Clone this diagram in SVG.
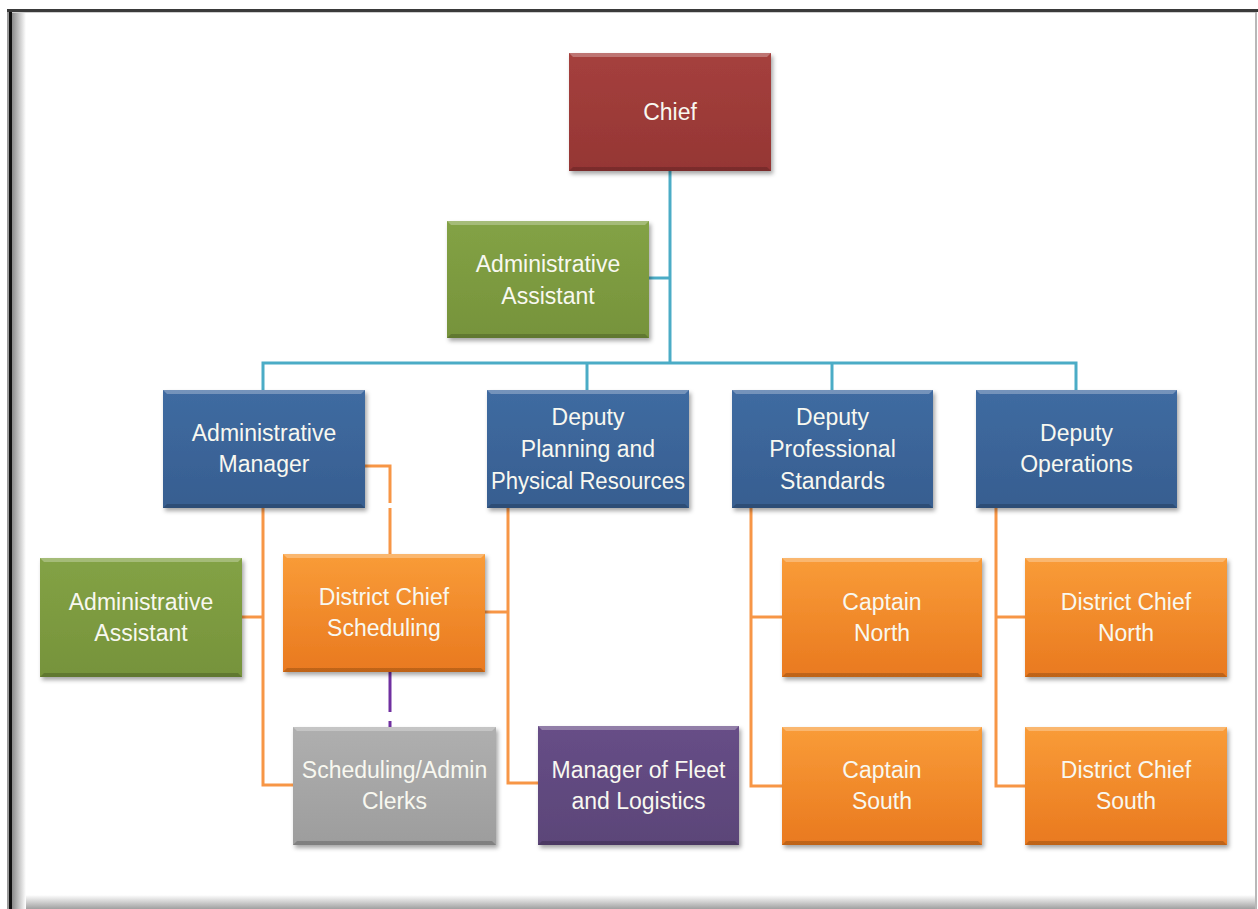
<svg xmlns="http://www.w3.org/2000/svg" width="1258" height="909" viewBox="0 0 1258 909">
<defs>
<style>
.t{font-family:"Liberation Sans",Arial,sans-serif;font-size:23px;fill:#F8F8F0;text-anchor:middle}
.box{filter:url(#sh)}
.tl{fill:none;stroke:#4BACC6;stroke-width:3}
.ol{fill:none;stroke:#F79646;stroke-width:3}
.pl{fill:none;stroke:#7030A0;stroke-width:3}
.hi{fill:#ffffff;opacity:0.28}
.lo{fill:#000000;opacity:0.18}
</style>
<filter id="sh" x="-10%" y="-10%" width="125%" height="130%">
<feDropShadow dx="2" dy="3" stdDeviation="2" flood-color="#000" flood-opacity="0.35"/>
</filter>
<linearGradient id="gRed" x1="0" y1="0" x2="0" y2="1"><stop offset="0" stop-color="#A5403D"/><stop offset="1" stop-color="#953634"/></linearGradient>
<linearGradient id="gGreen" x1="0" y1="0" x2="0" y2="1"><stop offset="0" stop-color="#83A245"/><stop offset="1" stop-color="#76933B"/></linearGradient>
<linearGradient id="gBlue" x1="0" y1="0" x2="0" y2="1"><stop offset="0" stop-color="#3F6BA1"/><stop offset="1" stop-color="#375E90"/></linearGradient>
<linearGradient id="gOrange" x1="0" y1="0" x2="0" y2="1"><stop offset="0" stop-color="#F99C38"/><stop offset="1" stop-color="#E9791F"/></linearGradient>
<linearGradient id="gGray" x1="0" y1="0" x2="0" y2="1"><stop offset="0" stop-color="#AFAFAF"/><stop offset="1" stop-color="#9D9D9D"/></linearGradient>
<linearGradient id="gPurple" x1="0" y1="0" x2="0" y2="1"><stop offset="0" stop-color="#674E87"/><stop offset="1" stop-color="#5B4578"/></linearGradient>
<linearGradient id="fl" x1="0" y1="0" x2="1" y2="0"><stop offset="0" stop-color="#8a8a8a"/><stop offset="1" stop-color="#ffffff"/></linearGradient>
<linearGradient id="fb" x1="0" y1="0" x2="0" y2="1"><stop offset="0" stop-color="#ffffff"/><stop offset="1" stop-color="#a0a0a0"/></linearGradient>
</defs>

<g id="frame">
<rect x="0" y="0" width="1258" height="909" fill="#ffffff"/>
<rect x="12" y="895" width="1244" height="14" fill="url(#fb)"/>
<rect x="12" y="12" width="14" height="897" fill="url(#fl)"/>
<rect x="7" y="9" width="2" height="900" fill="#9a9a9a"/>
<rect x="9" y="10" width="3" height="899" fill="#111111"/>
<rect x="7" y="9" width="1251" height="3" fill="#3a3a3a"/>
<rect x="12" y="12" width="1244" height="1" fill="#cfcfcf"/>
<rect x="1255" y="12" width="2" height="897" fill="#b8b8b8"/>
</g>

<g id="connectors">
<path class="tl" d="M670 171 V363"/>
<path class="tl" d="M649 278 H670"/>
<path class="tl" d="M263 390 V363 H1076 V390"/>
<path class="tl" d="M587 363 V390"/>
<path class="tl" d="M832 363 V390"/>
<path class="ol" d="M263 508 V785 H293"/>
<path class="ol" d="M242 617 H263"/>
<path class="ol" d="M365 466 H390 V554" stroke-dasharray="62 5 60"/>
<path class="ol" d="M485 612 H508"/>
<path class="ol" d="M508 508 V783 H538"/>
<path class="ol" d="M751 508 V786 H782"/>
<path class="ol" d="M751 617 H782"/>
<path class="ol" d="M996 508 V786 H1025"/>
<path class="ol" d="M996 617 H1025"/>
<path class="pl" d="M390 672 V712"/>
<path class="pl" d="M390 721 V728"/>
</g>

<g id="chief">
<rect class="box" x="569" y="53" width="202" height="118" fill="url(#gRed)"/>
<polygon class="hi" points="569,53 771,53 767,57 573,57"/>
<polygon class="lo" points="569,171 771,171 767,167 573,167"/>
<text class="t" x="670" y="120">Chief</text>
</g>

<g id="admin-assistant-chief">
<rect class="box" x="447" y="221" width="202" height="117" fill="url(#gGreen)"/>
<polygon class="hi" points="447,221 649,221 645,225 451,225"/>
<polygon class="lo" points="447,338 649,338 645,334 451,334"/>
<text class="t" x="548" y="272">Administrative</text>
<text class="t" x="548" y="304">Assistant</text>
</g>

<g id="admin-manager">
<rect class="box" x="163" y="390" width="202" height="118" fill="url(#gBlue)"/>
<polygon class="hi" points="163,390 365,390 361,394 167,394"/>
<polygon class="lo" points="163,508 365,508 361,504 167,504"/>
<text class="t" x="264" y="441">Administrative</text>
<text class="t" x="264" y="472">Manager</text>
</g>

<g id="deputy-planning">
<rect class="box" x="487" y="390" width="202" height="118" fill="url(#gBlue)"/>
<polygon class="hi" points="487,390 689,390 685,394 491,394"/>
<polygon class="lo" points="487,508 689,508 685,504 491,504"/>
<text class="t" x="588" y="425">Deputy</text>
<text class="t" x="588" y="457">Planning and</text>
<text class="t" x="588" y="489" textLength="194" lengthAdjust="spacingAndGlyphs">Physical Resources</text>
</g>

<g id="deputy-professional">
<rect class="box" x="732" y="390" width="201" height="118" fill="url(#gBlue)"/>
<polygon class="hi" points="732,390 933,390 929,394 736,394"/>
<polygon class="lo" points="732,508 933,508 929,504 736,504"/>
<text class="t" x="832.5" y="425">Deputy</text>
<text class="t" x="832.5" y="457">Professional</text>
<text class="t" x="832.5" y="489">Standards</text>
</g>

<g id="deputy-operations">
<rect class="box" x="976" y="390" width="201" height="118" fill="url(#gBlue)"/>
<polygon class="hi" points="976,390 1177,390 1173,394 980,394"/>
<polygon class="lo" points="976,508 1177,508 1173,504 980,504"/>
<text class="t" x="1076.5" y="441">Deputy</text>
<text class="t" x="1076.5" y="472">Operations</text>
</g>

<g id="admin-assistant-manager">
<rect class="box" x="40" y="558" width="202" height="119" fill="url(#gGreen)"/>
<polygon class="hi" points="40,558 242,558 238,562 44,562"/>
<polygon class="lo" points="40,677 242,677 238,673 44,673"/>
<text class="t" x="141" y="610">Administrative</text>
<text class="t" x="141" y="641">Assistant</text>
</g>

<g id="district-chief-scheduling">
<rect class="box" x="283" y="554" width="202" height="118" fill="url(#gOrange)"/>
<polygon class="hi" points="283,554 485,554 481,558 287,558"/>
<polygon class="lo" points="283,672 485,672 481,668 287,668"/>
<text class="t" x="384" y="605">District Chief</text>
<text class="t" x="384" y="636">Scheduling</text>
</g>

<g id="captain-north">
<rect class="box" x="782" y="558" width="200" height="119" fill="url(#gOrange)"/>
<polygon class="hi" points="782,558 982,558 978,562 786,562"/>
<polygon class="lo" points="782,677 982,677 978,673 786,673"/>
<text class="t" x="882" y="610">Captain</text>
<text class="t" x="882" y="641">North</text>
</g>

<g id="district-chief-north">
<rect class="box" x="1025" y="558" width="202" height="119" fill="url(#gOrange)"/>
<polygon class="hi" points="1025,558 1227,558 1223,562 1029,562"/>
<polygon class="lo" points="1025,677 1227,677 1223,673 1029,673"/>
<text class="t" x="1126" y="610">District Chief</text>
<text class="t" x="1126" y="641">North</text>
</g>

<g id="scheduling-clerks">
<rect class="box" x="293" y="727" width="203" height="118" fill="url(#gGray)"/>
<polygon class="hi" points="293,727 496,727 492,731 297,731"/>
<polygon class="lo" points="293,845 496,845 492,841 297,841"/>
<text class="t" x="394.5" y="778">Scheduling/Admin</text>
<text class="t" x="394.5" y="809">Clerks</text>
</g>

<g id="manager-fleet">
<rect class="box" x="538" y="726" width="201" height="119" fill="url(#gPurple)"/>
<polygon class="hi" points="538,726 739,726 735,730 542,730"/>
<polygon class="lo" points="538,845 739,845 735,841 542,841"/>
<text class="t" x="638.5" y="778">Manager of Fleet</text>
<text class="t" x="638.5" y="809">and Logistics</text>
</g>

<g id="captain-south">
<rect class="box" x="782" y="727" width="200" height="118" fill="url(#gOrange)"/>
<polygon class="hi" points="782,727 982,727 978,731 786,731"/>
<polygon class="lo" points="782,845 982,845 978,841 786,841"/>
<text class="t" x="882" y="778">Captain</text>
<text class="t" x="882" y="809">South</text>
</g>

<g id="district-chief-south">
<rect class="box" x="1025" y="727" width="202" height="118" fill="url(#gOrange)"/>
<polygon class="hi" points="1025,727 1227,727 1223,731 1029,731"/>
<polygon class="lo" points="1025,845 1227,845 1223,841 1029,841"/>
<text class="t" x="1126" y="778">District Chief</text>
<text class="t" x="1126" y="809">South</text>
</g>
</svg>
